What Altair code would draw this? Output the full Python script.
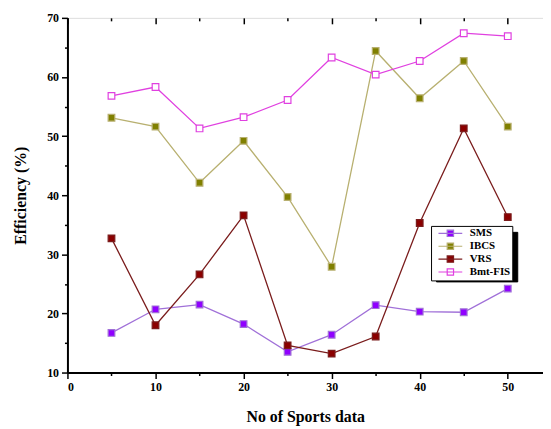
import altair as alt
import pandas as pd

x_vals = [5, 10, 15, 20, 25, 30, 35, 40, 45, 50]
series_names = ["SMS", "IBCS", "VRS", "Bmt-FIS"]
sms = [16.7, 20.7, 21.5, 18.2, 13.5, 16.4, 21.4, 20.3, 20.2, 24.2]
ibcs = [53.1, 51.6, 42.1, 49.2, 39.7, 27.9, 64.4, 56.4, 62.7, 51.6]
vrs = [32.7, 18.0, 26.6, 36.6, 14.6, 13.2, 16.1, 35.3, 51.3, 36.3]
bmt = [56.8, 58.3, 51.3, 53.2, 56.1, 63.3, 60.4, 62.7, 67.4, 66.9]

line_colors = ["#A070D8", "#B8B070", "#7A1C1C", "#E040E0"]
fill_colors = ["#9000FF", "#808000", "#8B0000", "#FFFFFF"]

shadow_names = [n + " " for n in series_names]

rows = []
for name, sname, vals in zip(series_names, shadow_names, [sms, ibcs, vrs, bmt]):
    for xv, yv in zip(x_vals, vals):
        rows.append({"x": xv, "y": yv, "series": name, "shadow": sname})
df = pd.DataFrame(rows)

FONT = "Liberation Serif"
W, H = 480, 358
MSIZE = 45

# legend symbolSize 4 -> path units are pixels (scale = sqrt(4)/2 = 1)
sym_path = "M-12,0H12M-3.2,-3.2H3.2V3.2H-3.2Z"

LX, LY = 367, 210
common_legend = dict(
    title=None, orient="none", symbolType=sym_path, symbolSize=4,
    symbolStrokeWidth=1.2, labelFont=FONT, labelFontWeight="bold", labelFontSize=11,
    padding=2, symbolOffset=12, labelOffset=14,
)
legend = alt.Legend(legendX=LX, legendY=LY, strokeColor="black", fillColor="white",
                    labelColor="black", zindex=2, rowPadding=0, **common_legend)
shadow_legend = alt.Legend(legendX=LX + 5, legendY=LY + 6, strokeColor="black",
                           fillColor="black", labelColor="black", symbolOpacity=0,
                           zindex=1, rowPadding=5.4, **common_legend)

x_scale = alt.Scale(domain=[0, 54], nice=False, zero=False)
y_scale = alt.Scale(domain=[10, 70], nice=False, zero=False)

tick_cond = {"condition": {"test": "datum.value % 10 === 0", "value": 6}, "value": 3}
lab_expr = "datum.value % 10 === 0 ? datum.label : ''"

x_axis = alt.Axis(
    values=list(range(0, 55, 5)), labelExpr=lab_expr, tickSize=tick_cond,
    title="No of Sports data", titleFont=FONT, titleFontSize=16, titleFontWeight="bold",
    labelFont=FONT, labelFontSize=12, labelFontWeight="bold", labelColor="black",
    domainColor="black", domainWidth=2, tickColor="black", tickWidth=1.5,
    grid=False, titlePadding=16, labelPadding=3, titleColor="black",
)
y_axis = alt.Axis(
    values=list(range(10, 75, 5)), labelExpr=lab_expr, tickSize=tick_cond,
    title="Efficiency (%)", titleFont=FONT, titleFontSize=16, titleFontWeight="bold",
    labelFont=FONT, labelFontSize=12, labelFontWeight="bold", labelColor="black",
    domainColor="black", domainWidth=2, tickColor="black", tickWidth=1.5,
    grid=False, titlePadding=18, labelPadding=3, titleColor="black",
)
top_axis = alt.Axis(
    values=list(range(0, 55, 5)), orient="bottom", offset=-H, labels=False,
    tickSize=tick_cond, domain=False, title=None, tickColor="black", tickWidth=1.5,
    grid=False,
)

stroke_enc = alt.Stroke("series:N", scale=alt.Scale(domain=series_names, range=line_colors),
                        legend=legend)
fill_enc = alt.Fill("series:N", scale=alt.Scale(domain=series_names, range=fill_colors),
                    legend=legend)

lines = alt.Chart(df).mark_line(strokeWidth=1.3).encode(
    x=alt.X("x:Q", scale=x_scale, axis=x_axis),
    y=alt.Y("y:Q", scale=y_scale, axis=y_axis),
    stroke=stroke_enc,
    detail="series:N",
)

points = alt.Chart(df).mark_point(shape="square", size=MSIZE, filled=False, strokeWidth=1.2,
                                  opacity=1).encode(
    x=alt.X("x:Q", scale=x_scale, axis=top_axis),
    y=alt.Y("y:Q", scale=y_scale, axis=y_axis),
    stroke=stroke_enc,
    fill=fill_enc,
)

shadow = alt.Chart(df).mark_point(shape="square", size=MSIZE).encode(
    x=alt.X("x:Q", scale=x_scale, axis=None),
    y=alt.Y("y:Q", scale=y_scale, axis=y_axis),
    opacity=alt.Opacity("shadow:N", scale=alt.Scale(domain=shadow_names, range=[0, 0, 0, 0]),
                        legend=shadow_legend),
)

chart = alt.layer(shadow, lines, points).resolve_axis(x="independent").properties(
    width=W, height=H,
    autosize=alt.AutoSizeParams(type="none"),
    padding={"left": 60, "top": 8, "right": 0, "bottom": 52},
).configure_view(stroke="black", strokeWidth=2).configure(background="white")

chart.save("out.html", embed_options={"renderer": "svg", "actions": False})
